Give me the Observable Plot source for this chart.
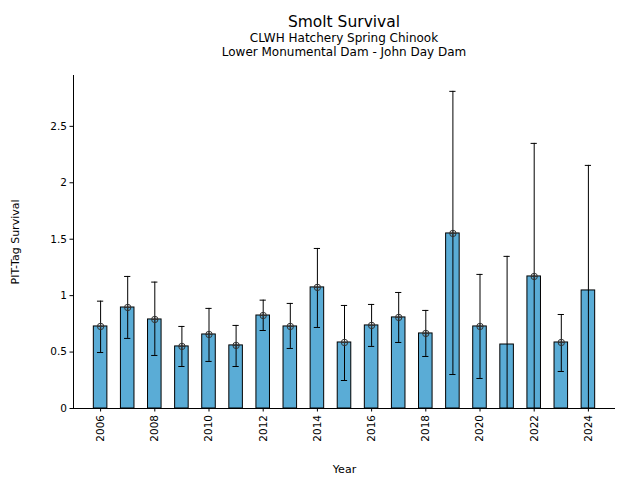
<!DOCTYPE html>
<html>
<head>
<meta charset="utf-8">
<script src="https://cdn.jsdelivr.net/npm/d3@7"></script>
<script src="https://cdn.jsdelivr.net/npm/@observablehq/plot@0.6"></script>
<style>
  html, body { margin: 0; padding: 0; background: #fff; }
  #wrap { position: relative; width: 640px; height: 480px; font-family: "DejaVu Sans", sans-serif; color: #000; }
  #titles { position: relative; width: 640px; height: 62px; }
  .t { position: absolute; left: 73px; width: 542px; text-align: center; white-space: nowrap; }
  #t1 { top: 13px; font-size: 15.5px; line-height: 18px; }
  #t2 { top: 31px; font-size: 12px; line-height: 14px; }
  #t3 { top: 45px; font-size: 12px; line-height: 14px; }
</style>
</head>
<body>
<div id="wrap">
  <div id="titles">
    <div class="t" id="t1">Smolt Survival</div>
    <div class="t" id="t2">CLWH Hatchery Spring Chinook</div>
    <div class="t" id="t3">Lower Monumental Dam - John Day Dam</div>
  </div>
  <div id="chart"></div>
</div>
<script>
const years = [2006, 2007, 2008, 2009, 2010, 2011, 2012, 2013, 2014, 2015, 2016, 2017, 2018, 2019, 2020, 2021, 2022, 2023, 2024];
const survival = [0.727, 0.895, 0.789, 0.550, 0.656, 0.559, 0.824, 0.727, 1.073, 0.585, 0.736, 0.807, 0.665, 1.551, 0.727, 0.567, 1.170, 0.585, 1.046];
const upper = [0.951, 1.170, 1.120, 0.727, 0.887, 0.736, 0.960, 0.931, 1.418, 0.913, 0.922, 1.028, 0.869, 2.810, 1.188, 1.348, 2.349, 0.833, 2.154];
const lower = [0.496, 0.621, 0.470, 0.372, 0.417, 0.372, 0.691, 0.532, 0.718, 0.248, 0.550, 0.585, 0.461, 0.301, 0.266, 0, 0, 0.328, 0];
const hasMarker = [true, true, true, true, true, true, true, true, true, true, true, true, true, true, true, false, true, true, false];
const xTicks = [2006, 2008, 2010, 2012, 2014, 2016, 2018, 2020, 2022, 2024];
const yTicks = [0, 0.5, 1, 1.5, 2, 2.5];

const data = years.map((y, i) => ({year: y, value: survival[i], lo: lower[i], hi: upper[i], marker: hasMarker[i]}));

const barHalf = 0.25, capHalf = 0.115;
const circlePlus = {
  draw(ctx, size) {
    const r = Math.sqrt(size / Math.PI);
    ctx.moveTo(r, 0);
    ctx.arc(0, 0, r, 0, 2 * Math.PI);
    ctx.moveTo(-r, 0); ctx.lineTo(r, 0);
    ctx.moveTo(0, -r); ctx.lineTo(0, r);
  }
};

const chart = Plot.plot({
  width: 640,
  height: 418,
  marginTop: 13,
  marginBottom: 72,
  marginLeft: 73,
  marginRight: 25,
  style: {fontFamily: "DejaVu Sans, sans-serif", fontSize: "10.5px", color: "#000", background: "#fff"},
  x: {type: "linear", domain: [2005, 2025]},
  y: {domain: [0, Math.max(...upper) * 1.05]},
  marks: [
    Plot.rect(data, {x1: d => d.year - barHalf, x2: d => d.year + barHalf, y1: 0, y2: "value", fill: "#5aacd6", stroke: "#000", strokeWidth: 1}),
    Plot.ruleX(data, {x: "year", y1: "lo", y2: "hi", stroke: "#000", strokeWidth: 1}),
    Plot.ruleY(data, {y: "hi", x1: d => d.year - capHalf, x2: d => d.year + capHalf, stroke: "#000", strokeWidth: 1}),
    Plot.ruleY(data.filter(d => d.lo > 0), {y: "lo", x1: d => d.year - capHalf, x2: d => d.year + capHalf, stroke: "#000", strokeWidth: 1}),
    Plot.dot(data.filter(d => d.marker), {x: "year", y: "value", r: 3.2, symbol: circlePlus, stroke: "#333", strokeWidth: 1, fill: "none"}),
    Plot.ruleY([0], {stroke: "#000", strokeWidth: 1}),
    Plot.ruleX([2005], {stroke: "#000", strokeWidth: 1}),
    Plot.axisX({ticks: xTicks, tickFormat: d => String(d), tickRotate: -90, tickSize: 3.5, tickPadding: 3, label: null, fontSize: "10.5px"}),
    Plot.axisX({ticks: [], label: "Year", labelAnchor: "center", labelOffset: 64, labelArrow: "none", fontSize: "11px"}),
    Plot.axisY({ticks: yTicks, tickFormat: d => String(d), tickSize: 3.5, tickPadding: 3, label: null, fontSize: "10.5px"}),
    Plot.axisY({ticks: [], label: "PIT-Tag Survival", labelAnchor: "center", labelOffset: 62, labelArrow: "none", fontSize: "11px"})
  ]
});
document.getElementById("chart").appendChild(chart);
</script>
</body>
</html>
